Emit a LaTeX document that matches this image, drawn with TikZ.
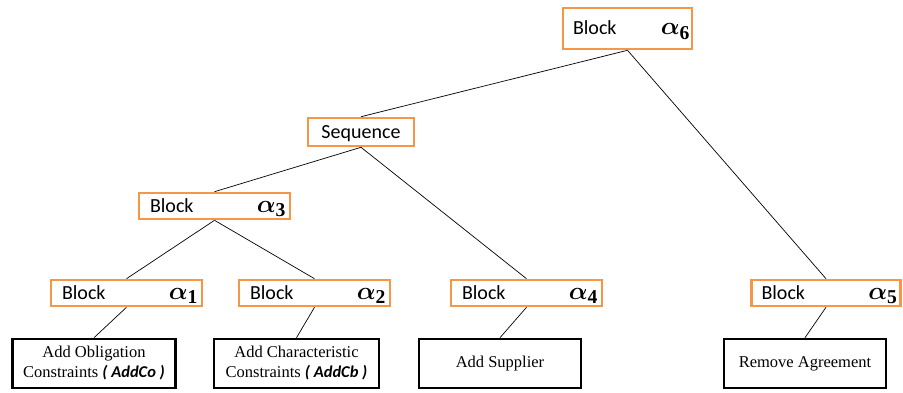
\documentclass[tikz,border=0pt]{standalone}
\usepackage{amsmath}
\usepackage{fontspec}
\setmainfont{Liberation Serif}
\newfontfamily\calib{Carlito}
\definecolor{blkorange}{RGB}{247,150,70}
\newcommand{\alp}[1]{{\fontsize{28}{32}\selectfont$\boldsymbol{\alpha}_{\mathbf{#1}}$}}
\newcommand{\blktext}[3]{\makebox[#1][l]{\hspace*{#2}\calib\fontsize{20}{24}\selectfont Block\hfill\alp{#3}}}
\tikzset{
  blk/.style={draw=blkorange, line width=2.6pt, rectangle, minimum height=26pt, inner sep=0pt, text height=13pt, text depth=0pt},
  leaf/.style={draw=black, line width=2.6pt, rectangle, minimum height=49pt, inner sep=0pt, align=center, font=\fontsize{16.5}{20}\selectfont},
  conn/.style={draw=black, line width=0.7pt},
}
\begin{document}
\begin{tikzpicture}[x=1pt,y=1pt]
\useasboundingbox (0,0) rectangle (903,392);
% image coordinates: y_tikz = 392 - y_img
\node[blk, minimum width=129pt, minimum height=41pt] (a6) at (627.5,363.5) {\blktext{125pt}{8pt}{6}};
\node[blk, minimum width=106pt, minimum height=28pt, text depth=-0.5pt] (seq) at (361,260) {\calib\fontsize{20}{24}\selectfont Sequence};
\node[blk, minimum width=151pt] (a3) at (214.5,186) {\blktext{143pt}{7pt}{3}};
\node[blk, minimum width=151pt] (a1) at (126.5,99) {\blktext{143pt}{7pt}{1}};
\node[blk, minimum width=151pt] (a2) at (314.5,99) {\blktext{143pt}{7pt}{2}};
\node[blk, minimum width=151pt] (a4) at (526.5,99) {\blktext{143pt}{7pt}{4}};
\node[blk, minimum width=149pt] (a5) at (826,99) {\blktext{143pt}{7pt}{5}};
\node[leaf, minimum width=163pt] (b1) at (94,28.5) {Add Obligation\\Constraints {\calib\bfseries\itshape ( AddCo )}};
\node[leaf, minimum width=165pt] (b2) at (296.5,28.5) {Add Characteristic\\Constraints {\calib\bfseries\itshape ( AddCb )}};
\node[leaf, minimum width=162pt] (b3) at (500,28.5) {Add Supplier};
\node[leaf, minimum width=162pt] (b4) at (805,28.5) {Remove Agreement};
\draw[conn] (a6.south) -- (seq.north);
\draw[conn] (a6.south) -- (a5.north);
\draw[conn] (seq.south) -- (a3.north);
\draw[conn] (seq.south) -- (a4.north);
\draw[conn] (a3.south) -- (a1.north);
\draw[conn] (a3.south) -- (a2.north);
\draw[conn] (a1.south) -- (b1.north);
\draw[conn] (a2.south) -- (b2.north);
\draw[conn] (a4.south) -- (b3.north);
\draw[conn] (a5.south) -- (b4.north);
\end{tikzpicture}
\end{document}
